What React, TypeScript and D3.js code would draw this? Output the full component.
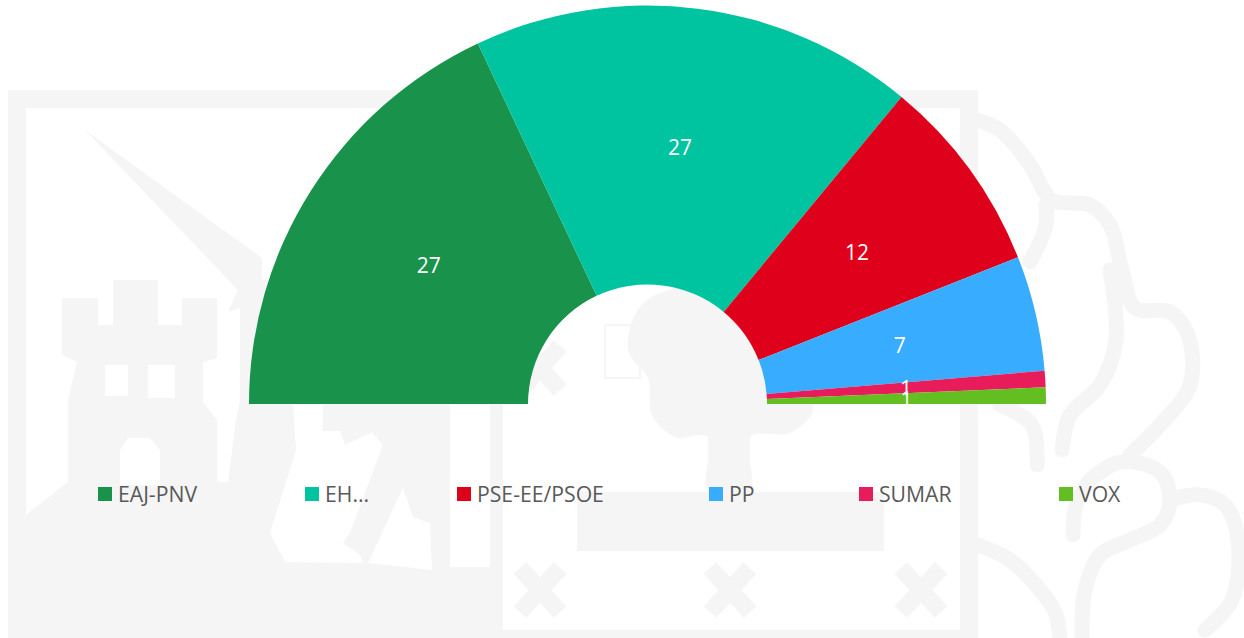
import React from "react";
import * as d3 from "d3";

const parties = ["EAJ-PNV", "EH...", "PSE-EE/PSOE", "PP", "SUMAR", "VOX"];
const seats = [27, 27, 12, 7, 1, 1];
const colors = ["#19924C", "#00C3A0", "#DF001B", "#38ACFF", "#E91C5B", "#63BE21"];
const legendSwatchX = [98, 305, 457, 709, 859, 1059];

const W = 1244, H = 638;
const CX = 647.5, CY = 404, R = 398.5, R0 = 119.5;
const WM = "#f5f5f5";

type P = [number, number];
const poly = (pts: P[]) => d3.line().curve(d3.curveLinearClosed)(pts) as string;
const soft = (pts: P[]) => d3.line().curve(d3.curveCatmullRomClosed.alpha(0.5))(pts) as string;
const open = (pts: P[]) => d3.line().curve(d3.curveCatmullRom.alpha(0.5))(pts) as string;

// Watermark (faint coat of arms behind the chart)
const massLeft: P[] = [[26, 638], [26, 515], [68, 482], [68, 400], [77, 362], [62, 355], [62, 298], [98, 298], [98, 325], [113, 325], [113, 280], [158, 280], [158, 325], [182, 325], [182, 298], [217, 298], [217, 358], [203, 362], [203, 402], [217, 420], [217, 482], [228, 482], [236, 420], [240, 400], [240, 295], [262, 280], [503, 280], [503, 638]];
const sword: P[] = [[85, 130], [262, 258], [262, 300], [228, 312], [238, 290]];
const whiteCuts: P[][] = [
  [[270, 533], [296, 450], [293, 404], [323, 404], [323, 431], [340, 431], [345, 445], [372, 432], [383, 445], [350, 533], [343, 543], [360, 555], [363, 563], [285, 562]],
  [[368, 563], [403, 488], [413, 517], [430, 523], [432, 570]],
  [[450, 404], [490, 404], [490, 567], [450, 567]],
  [[105, 365], [128, 365], [128, 396], [105, 396]],
  [[148, 365], [175, 365], [175, 398], [148, 398]],
  [[120, 485], [120, 450], [128, 438], [150, 438], [160, 450], [160, 485]],
];
const crown: P[] = [[628, 350], [647, 300], [780, 290], [812, 400], [812, 413], [790, 433], [750, 437], [750, 490], [708, 490], [708, 437], [675, 437], [652, 415], [648, 378]];
const crosses: P[] = [[540, 590], [730, 590], [921, 590], [540, 368]];
const strokes: P[][] = [
  [[970, 118], [1000, 130], [1030, 165], [1052, 200], [1090, 205], [1110, 225], [1122, 270], [1135, 308], [1170, 312], [1188, 335], [1190, 385], [1160, 425], [1130, 455]],
  [[1046, 205], [1046, 225], [1030, 262]],
  [[1110, 270], [1116, 340], [1100, 385], [1070, 415], [1062, 450]],
  [[1000, 405], [1032, 425], [1037, 465]],
  [[1090, 480], [1120, 462], [1160, 472], [1170, 500], [1160, 525], [1130, 540], [1100, 555], [1085, 590], [1082, 638]],
  [[1090, 480], [1076, 505], [1073, 535]],
  [[1170, 500], [1200, 495], [1225, 505], [1238, 540], [1232, 600], [1205, 630]],
  [[978, 545], [1010, 560], [1040, 590], [1055, 612], [1060, 638]],
];

const Watermark = () => (
  <g>
    <rect x={8} y={90} width={970} height={548} fill={WM} />
    <rect x={26} y={108} width={934} height={522} fill="#fff" />
    <path d={poly(massLeft)} fill={WM} />
    <path d={poly(sword)} fill={WM} />
    {whiteCuts.map((c, i) => <path key={i} d={poly(c)} fill="#fff" />)}
    <path d={soft(crown)} fill={WM} />
    <rect x={708} y={437} width={42} height={56} fill={WM} />
    <rect x={577} y={492} width={307} height={59} fill={WM} />
    <rect x={605} y={325} width={35} height={53} fill="none" stroke={WM} strokeWidth={2} />
    {crosses.map(([x, y], i) => (
      <path key={i} d={`M${x - 20},${y - 22}L${x + 20},${y + 22}M${x + 20},${y - 22}L${x - 20},${y + 22}`} stroke={WM} strokeWidth={17} fill="none" />
    ))}
    {strokes.map((s, i) => <path key={i} d={open(s)} fill="none" stroke={WM} strokeWidth={15} strokeLinecap="round" strokeLinejoin="round" />)}
  </g>
);

export default function App() {
  const pie = d3.pie<number>().sort(null).startAngle(-Math.PI / 2).endAngle(Math.PI / 2);
  const arc = d3.arc<d3.PieArcDatum<number>>().innerRadius(R0).outerRadius(R);
  const arcs = pie(seats);
  const font = "'Open Sans', sans-serif";
  return (
    <svg width={W} height={H} viewBox={`0 0 ${W} ${H}`} style={{ position: "absolute", left: 0, top: 0, display: "block" }}>
      <rect width={W} height={H} fill="#fff" />
      <Watermark />
      <g transform={`translate(${CX},${CY})`}>
        {arcs.map((a, i) => <path key={parties[i]} d={arc(a) as string} fill={colors[i]} />)}
        {arcs.map((a, i) => {
          const [x, y] = arc.centroid(a);
          return (
            <text key={parties[i]} x={x} y={y} textAnchor="middle" dominantBaseline="central" fontFamily={font} fontSize={21} fill="#fff">
              {a.data}
            </text>
          );
        })}
      </g>
      {parties.map((p, i) => (
        <g key={p}>
          <rect x={legendSwatchX[i]} y={487} width={14} height={14} fill={colors[i]} />
          <text x={legendSwatchX[i] + 20} y={493.5} dominantBaseline="central" fontFamily={font} fontSize={21.2} fill="#595959">
            {p}
          </text>
        </g>
      ))}
    </svg>
  );
}
